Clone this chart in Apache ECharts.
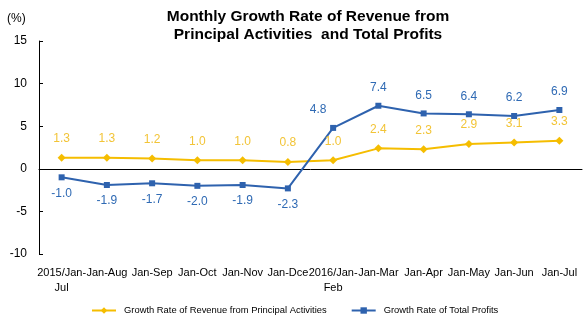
<!DOCTYPE html>
<html><head><meta charset="utf-8">
<script src="https://cdn.jsdelivr.net/npm/echarts@6/dist/echarts.min.js"></script>
<style>html,body{margin:0;padding:0;background:#fff}#c{width:586px;height:322px}</style>
</head><body><div id="c"></div>
<script>
const categories = ['2015/Jan-\nJul','Jan-Aug','Jan-Sep','Jan-Oct','Jan-Nov','Jan-Dce','2016/Jan-\nFeb','Jan-Mar','Jan-Apr','Jan-May','Jan-Jun','Jan-Jul'];
const revenueGrowth = [1.3,1.3,1.2,1.0,1.0,0.8,1.0,2.4,2.3,2.9,3.1,3.3];
const profitGrowth = [-1.0,-1.9,-1.7,-2.0,-1.9,-2.3,4.8,7.4,6.5,6.4,6.2,6.9];
const seriesNames = ['Growth Rate of Revenue from Principal Activities','Growth Rate of Total Profits'];
const titleText = 'Monthly Growth Rate of Revenue from\nPrincipal Activities  and Total Profits';

const YEL = '#F5BD00', BLU = '#2E62AE';
const chart = echarts.init(document.getElementById('c'));
const profitData = profitGrowth.map((v,i) => ({
  value: v,
  label: v < 0 ? {position:'bottom', distance: 7} : (i === 6 ? {position:'top', offset:[-15,0]} : {position:'top'})
}));
chart.setOption({
  animation: false,
  title: {text: titleText, left: 303, textAlign: 'center', top: 3,
    textStyle: {fontFamily: 'Arial, Liberation Sans', fontSize: 15.5, fontWeight: 'bold', color: '#000', lineHeight: 18}},
  graphic: [{type:'text', left: 7, top: 13, style:{text:'(%)', font:'12px Arial, Liberation Sans', fill:'#000'}}],
  legend: {top: 301, left: 86, itemGap: 24, itemWidth: 24, itemHeight: 8,
    textStyle: {fontFamily:'Arial, Liberation Sans', fontSize: 9.4, color:'#000', padding:[0,0,0,3]},
    data: seriesNames},
  grid: {left: 39, right: 4, top: 41, bottom: 68},
  xAxis: {type:'category', data: categories, boundaryGap: true,
    axisLine: {lineStyle:{color:'#000', width:1}},
    axisTick: {inside:true, length:5, interval:0, lineStyle:{color:'#000'}},
    axisLabel: {interval:0, margin: 11, color:'#000', fontFamily:'Arial, Liberation Sans', fontSize: 11, lineHeight: 15}},
  yAxis: {type:'value', min:-10, max:15, interval:5,
    axisLine: {show:true, lineStyle:{color:'#000', width:1}},
    axisTick: {show:true, inside:true, length:4, lineStyle:{color:'#000'}},
    splitLine: {show:false},
    axisLabel: {margin: 12, color:'#000', fontFamily:'Arial, Liberation Sans', fontSize: 12}},
  series: [
    {name: seriesNames[0], type:'line', data: revenueGrowth, symbol:'diamond', symbolSize: 8,
      itemStyle:{color:YEL}, lineStyle:{color:YEL, width:2},
      label:{show:true, position:'top', distance: 9, color:'#F2C437', fontFamily:'Arial, Liberation Sans', fontSize:12,
        formatter: p => p.value.toFixed(1)}},
    {name: seriesNames[1], type:'line', data: profitData, symbol:'rect', symbolSize: 6,
      itemStyle:{color:BLU}, lineStyle:{color:BLU, width:2},
      label:{show:true, position:'top', distance: 9, color:'#2F6AB4', fontFamily:'Arial, Liberation Sans', fontSize:12,
        formatter: p => p.value.toFixed(1)}}
  ]
});
</script></body></html>
